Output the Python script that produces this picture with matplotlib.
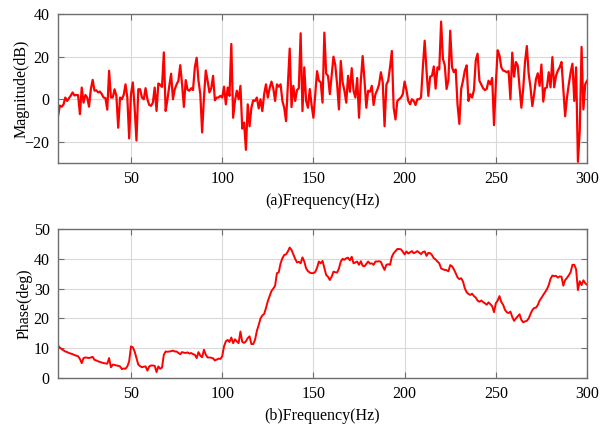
import matplotlib
matplotlib.use("Agg")
import matplotlib.pyplot as plt
import numpy as np

plt.rcParams['font.family'] = ['Liberation Serif', 'DejaVu Serif']

# frequency axis, 1 Hz steps
freq = np.arange(10, 301)

# magnitude (dB)
mag = [
    -8, -3, -3.5, -2.5, 0.8, -0.8, 0.5, 1.7, 3.2, 1.8,          # 10-19
    2, 1.9, -7, 5.5, -1.6, 2, 0.8, -3.5, 4.7, 9.1,              # 20-29
    4, 4.2, 3.2, 3.6, 2.4, 0.8, 0.5, -4.9, 13.4, 0.8,           # 30-39
    0.8, 4.7, 1.6, -13.4, 0.8, 0, 2, 7, 0.8, -18.4,             # 40-49
    2.4, 7.9, -4, -19.4, 4.7, 4.7, 0.8, 0, 5.2, 0,              # 50-59
    -2.7, -3.1, -1.6, 5.5, -5.5, 7.4, 6.8, 5.8, 22, -5.5,       # 60-69
    0, 6.3, 12, 0, 4.7, 7, 8.7, 16, 7, -3.6,                    # 70-79
    9, 4.5, 4, 5.2, 4.3, 15, 19.5, 8.7, 2.4, -15.6,             # 80-89
    0.8, 13.5, 8.7, 3.2, 5.2, 11, -0.5, 0.8, 0.8, 1.6,          # 90-99
    0.8, 5.9, -2.4, 5.5, 1.6, 26, -8.7, -0.8, 4, 0,             # 100-109
    6.3, -13.8, -11, -23.8, -2.4, -12.7, -4, -0.5, -0.8, 0.8,   # 110-119
    -4.3, 0, -5.6, 2.4, 7, 0.8, 5.2, 8.3, 5.2, -0.8,            # 120-129
    7, 5.9, 7, -0.8, -4, -10.3, 7, 23.8, -3.7, 6.3,             # 130-139
    -0.8, 4.3, 5.2, 31, -5.6, 15, -0.8, -4, 4.8, -2.7,          # 140-149
    -8.7, 2.4, 13.2, 8.7, 8, -1.6, 31.3, 12, 11, 2.4,           # 150-159
    11, 20, 16, 7, -4.8, 18, 8, 4, -1.6, 11,                    # 160-169
    3.5, 14.6, 4, 0.8, 10, -8.7, 8.7, 20.3, 9, -4,              # 170-179
    4, 3.5, 6.3, -2.7, 2.4, 4.3, 7, 12.7, 8, -12.7,             # 180-189
    6.8, 8.7, 15, 22.7, -4, -9.5, -0.8, 0, 0.8, 2.4,            # 190-199
    8.3, 4.3, -0.8, -2.4, 0, -0.8, -2.7, 0, 0, 0.8,             # 200-209
    15, 27.5, 13.5, 1.6, 10.6, 11, 15.4, 5, 15, 14,             # 210-219
    36.5, 19, 16, 4.8, 9, 32.2, 15, 12.7, 14, -2.4,             # 220-229
    -11.6, 4.8, 8.7, 13.5, 15.9, -0.8, 2.4, 0.8, 4.3, 18.3,     # 230-239
    21.4, 8.7, 7, 5.2, 4.3, 4.8, 8.7, 7, 10, -12.2,             # 240-249
    7, 23, 20.6, 15, 13.5, 13.2, 12.7, 13.2, 0, 21.9,           # 250-259
    10.6, 17.5, 15.9, 5.6, -4, 4.8, 17.5, 25, 12, 5.6,          # 260-269
    -3.2, 2.4, 9.5, 12.2, 6.3, 16.3, -1.1, 5.2, 5.6, 12.7,      # 270-279
    5.6, 19.8, 5.6, 11, 13.5, 15, 17.5, 4.8, -8, 0.8,           # 280-289
    7, 12.7, 16.7, -0.8, 15, -29.4, -15, 24.6, -4.8, 7, 8.7,    # 290-300
]

# phase (deg)
phase = [
    10.9, 10.2, 9.7, 9.3, 8.9, 8.7, 8.4, 8.2, 8.0, 7.7,
    7.5, 7.3, 6.4, 5.0, 6.7, 6.9, 6.8, 6.7, 6.9, 7.1,
    6.1, 5.9, 5.6, 5.4, 5.2, 5.0, 4.9, 4.8, 6.7, 3.6,
    4.5, 4.4, 4.2, 4.1, 3.9, 3.0, 3.2, 3.1, 3.9, 5.6,
    10.6, 10.3, 8.9, 6.7, 4.5, 4.0, 3.6, 3.8, 3.9, 2.5,
    3.9, 4.2, 4.2, 4.1, 2.0, 3.9, 3.1, 3.5, 7.8, 8.9,
    8.8, 8.9, 9.0, 9.2, 8.9, 8.9, 8.4, 8.0, 8.7, 8.5,
    8.4, 8.6, 8.2, 8.4, 8.0, 7.8, 6.7, 8.7, 7.5, 7.0,
    9.5, 7.8, 6.9, 6.9, 6.8, 6.6, 5.9, 6.2, 6.5, 6.4,
    7.3, 10.6, 12.3, 12.8, 12.1, 13.6, 11.7, 13.0, 12.3, 11.7,
    15.6, 12.1, 11.8, 12.3, 13.4, 14.0, 11.4, 11.4, 12.8, 15.8,
    17.8, 20.0, 21.0, 21.5, 23.5, 25.8, 27.5, 29.2, 30.0, 31.0,
    35.2, 35.5, 38.5, 40.2, 41.3, 41.5, 42.5, 43.8, 43.0, 41.5,
    40.0, 38.8, 39.0, 38.5, 40.5, 39.1, 36.8, 35.9, 35.4, 35.2,
    35.2, 35.6, 37.0, 39.1, 38.5, 39.3, 37.0, 34.6, 34.0, 32.9,
    34.0, 35.7, 35.5, 35.4, 36.8, 39.1, 40.0, 39.7, 40.2, 40.4,
    39.5, 40.7, 38.5, 38.8, 39.1, 38.0, 39.2, 37.7, 37.5, 38.3,
    39.1, 38.4, 38.5, 38.0, 39.1, 39.1, 39.2, 39.0, 37.5, 36.3,
    38.0, 38.2, 38.0, 40.7, 41.9, 42.6, 43.3, 43.3, 43.2, 42.4,
    41.5, 42.5, 41.8, 42.2, 42.6, 41.9, 42.2, 42.6, 42.1, 41.6,
    42.3, 42.5, 41.0, 42.0, 41.9, 41.3, 40.2, 39.8, 39.1, 38.5,
    36.8, 36.5, 36.3, 36.2, 35.8, 37.9, 37.5, 36.5, 35.2, 33.8,
    33.2, 33.5, 32.4, 30.1, 28.8, 28.2, 27.9, 28.3, 27.5, 27.0,
    26.0, 25.6, 26.0, 25.5, 25.1, 24.6, 25.4, 24.8, 24.1, 22.1,
    25.1, 26.0, 27.5, 25.5, 24.6, 22.9, 22.1, 21.8, 22.3, 20.5,
    19.2, 20.0, 20.7, 21.4, 19.5, 18.7, 19.0, 19.2, 20.0, 21.5,
    22.8, 23.5, 23.6, 24.5, 26.0, 26.9, 27.9, 28.8, 29.8, 31.2,
    33.3, 34.4, 34.2, 34.3, 33.7, 34.1, 34.0, 31.0, 32.9, 33.6,
    34.5, 35.5, 38.0, 38.0, 36.5, 29.5, 32.5, 31.2, 32.8, 31.8, 31.3,
]

xticks = [50, 100, 150, 200, 250, 300]

fig = plt.figure(figsize=(6.0, 4.28), dpi=100)
ax1 = fig.add_axes([0.0967, 0.619, 0.8817, 0.348])
ax2 = fig.add_axes([0.0967, 0.1168, 0.8817, 0.348])

def style(ax):
    ax.set_xlim(10, 300)
    ax.set_xticks(xticks)
    ax.grid(True, color='#d9d9d9', linewidth=0.8)
    ax.set_axisbelow(True)
    for s in ax.spines.values():
        s.set_color('#6e6e6e')
        s.set_linewidth(1.0)
    ax.tick_params(direction='in', top=True, right=True, length=4,
                   color='#6e6e6e', labelsize=11.5, pad=6)

ax1.plot(freq, mag, color='#ff0000', linewidth=1.6)
style(ax1)
ax1.set_ylim(-30, 40)
ax1.set_yticks([-20, 0, 20, 40])
ax1.set_ylabel('Magnitude(dB)', fontsize=11.5, labelpad=-3.5)
ax1.set_xlabel('(a)Frequency(Hz)', fontsize=11.5, labelpad=4)

ax2.plot(freq, phase, color='#ff0000', linewidth=1.4)
style(ax2)
ax2.set_ylim(0, 50)
ax2.set_yticks([0, 10, 20, 30, 40, 50])
ax2.set_ylabel('Phase(deg)', fontsize=11.5, labelpad=0.5)
ax2.set_xlabel('(b)Frequency(Hz)', fontsize=11.5, labelpad=4)

fig.savefig('out.png', dpi=100)
